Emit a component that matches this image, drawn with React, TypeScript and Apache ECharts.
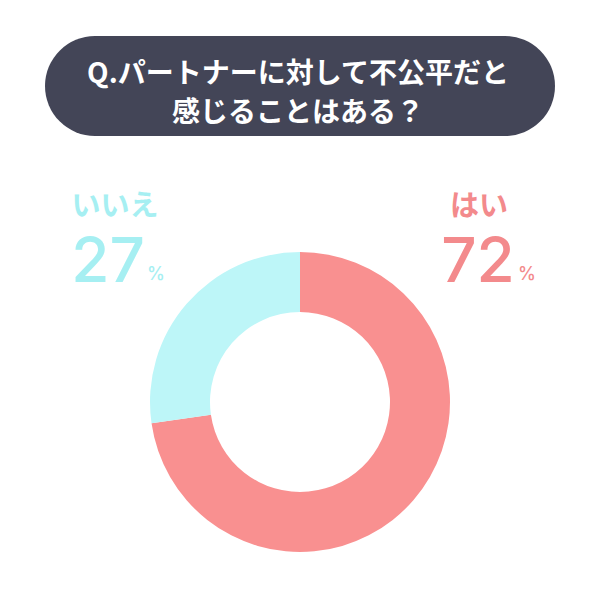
import React, { useEffect, useRef } from "react";
import * as echarts from "echarts";

const titleLines = ["Q.パートナーに対して不公平だと", "感じることはある？"];
const categories = ["はい", "いいえ"];
const values = [72, 27];
const colors = ["#F99090", "#BDF6F8"];
const labelColors = ["#F38A8C", "#A6EFF2"];

export default function App() {
  const ref = useRef<HTMLDivElement>(null);
  useEffect(() => {
    if (!ref.current) return;
    const chart = echarts.init(ref.current, undefined, { renderer: "svg" });
    const jp = "'Noto Sans CJK JP', 'Noto Sans', sans-serif";
    const num = "Inter, 'Noto Sans', sans-serif";
    const labelPos = [
      { x: 479, nameY: 203, numX: 478, pctX: 527 },
      { x: 115, nameY: 203, numX: 108, pctX: 156 },
    ];
    const labelGraphics: any[] = [];
    categories.forEach((c, i) => {
      const p = labelPos[i];
      labelGraphics.push({
        type: "text",
        x: p.x,
        y: p.nameY,
        style: {
          text: c,
          fill: labelColors[i],
          font: `bold 29px ${jp}`,
          textAlign: "center",
          textVerticalAlign: "middle",
        },
      });
      labelGraphics.push({
        type: "text",
        x: p.numX,
        y: 259,
        style: {
          text: String(values[i]),
          fill: labelColors[i],
          font: `500 62px ${num}`,
          textAlign: "center",
          textVerticalAlign: "middle",
        },
      });
      labelGraphics.push({
        type: "text",
        x: p.pctX,
        y: 273,
        style: {
          text: "%",
          fill: labelColors[i],
          font: `500 18px ${num}`,
          textAlign: "center",
          textVerticalAlign: "middle",
        },
      });
    });
    chart.setOption({
      animation: false,
      backgroundColor: "#ffffff",
      graphic: [
        {
          type: "rect",
          shape: { x: 45, y: 36, width: 510, height: 100, r: 50 },
          style: { fill: "#434557" },
        },
        ...titleLines.map((t, i) => ({
          type: "text",
          x: 298,
          y: 71 + i * 39,
          style: {
            text: t,
            fill: "#ffffff",
            font: `bold 28px ${jp}`,
            textAlign: "center",
            textVerticalAlign: "middle",
          },
        })),
        ...labelGraphics,
      ],
      series: [
        {
          type: "pie",
          center: [300, 402],
          radius: [90, 150],
          startAngle: 90,
          clockwise: true,
          label: { show: false },
          labelLine: { show: false },
          emphasis: { disabled: true },
          data: categories.map((c, i) => ({
            name: c,
            value: values[i],
            itemStyle: { color: colors[i] },
          })),
        },
      ],
    });
    return () => chart.dispose();
  }, []);
  return (
    <div
      ref={ref}
      style={{ position: "fixed", left: 0, top: 0, width: 600, height: 600 }}
    />
  );
}
